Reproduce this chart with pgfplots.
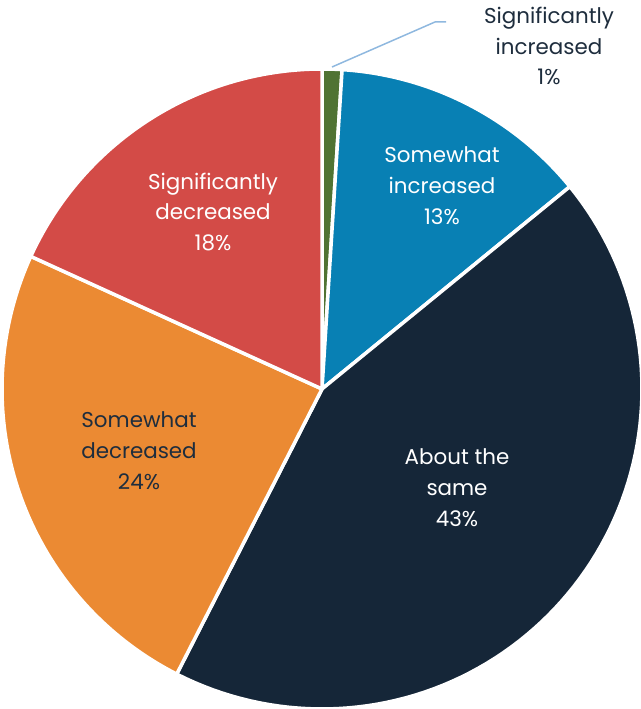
\documentclass[border=0pt]{standalone}
\usepackage{pgfplots}
\pgfplotsset{compat=1.18}
\usepackage{pgfplotstable}
\usepackage{fontspec}
\setmainfont[Ligatures={NoCommon}]{Poppins}
\definecolor{cgreen}{HTML}{507333}
\definecolor{cblue}{HTML}{0880B4}
\definecolor{cnavy}{HTML}{152638}
\definecolor{corange}{HTML}{EB8A33}
\definecolor{cred}{HTML}{D34B47}
\definecolor{ctext}{HTML}{1E2D3D}
\definecolor{cleader}{HTML}{8FB8DF}
\pgfplotstableread{
idx value
0 1.0
1 13.1
2 43.4
3 24.3
4 18.2
}\piedata
% cumulative angles (start at top, clockwise)
\def\cum{0}
\foreach \i/\nm in {0/A,1/B,2/C,3/D,4/E}{%
  \pgfplotstablegetelem{\i}{value}\of\piedata
  \pgfmathsetmacro{\hi}{90-3.6*\cum}%
  \pgfmathsetmacro{\newcum}{\cum+\pgfplotsretval}%
  \pgfmathsetmacro{\lo}{90-3.6*\newcum}%
  \expandafter\xdef\csname hi\nm\endcsname{\hi}%
  \expandafter\xdef\csname lo\nm\endcsname{\lo}%
  \xdef\cum{\newcum}%
}
\newcommand\slice[3]{%
  \addplot[fill=#1, draw=white, line width=3.5bp, line join=round, domain=#2:#3, samples=90, variable=\t]
    ({322+320*cos(\t)},{320+320*sin(\t)}) -- (axis cs:322,320) -- cycle;}
\begin{document}
\begin{tikzpicture}
\begin{axis}[
  scale only axis, width=641bp, height=709bp,
  xmin=0, xmax=641, ymin=0, ymax=709,
  hide axis, clip=false,
]
\slice{cgreen}{\loA}{\hiA}
\slice{cblue}{\loB}{\hiB}
\slice{cnavy}{\loC}{\hiC}
\slice{corange}{\loD}{\hiD}
\slice{cred}{\loE}{\hiE}
\addplot[cleader, line width=1.5bp] coordinates {(332,642) (435,687) (446,687)};
\tikzset{lbl/.style={align=center, font=\fontsize{21.5}{31}\selectfont}}
\node[lbl, text=ctext] at (axis cs:549,663) {Significantly\\increased\\1\%};
\node[lbl, text=white] at (axis cs:442,523) {Somewhat\\increased\\13\%};
\node[lbl, text=white] at (axis cs:457,221) {About the\\same\\43\%};
\node[lbl, text=ctext] at (axis cs:139,258) {Somewhat\\decreased\\24\%};
\node[lbl, text=white] at (axis cs:213,497) {Significantly\\decreased\\18\%};
\end{axis}
\pgfresetboundingbox
\path[use as bounding box] (current axis.south west) rectangle (current axis.north east);
\end{tikzpicture}
\end{document}
